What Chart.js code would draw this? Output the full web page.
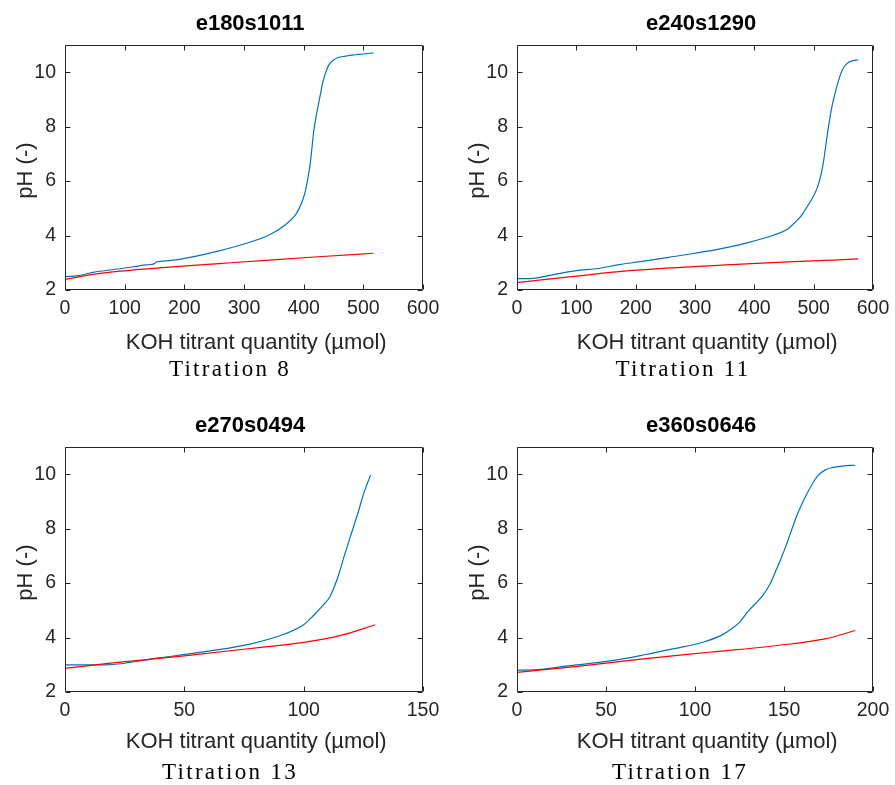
<!DOCTYPE html>
<html>
<head>
<meta charset="utf-8">
<script src="https://cdn.jsdelivr.net/npm/chart.js@4.4.1/dist/chart.umd.min.js"></script>
<style>
  html, body { margin: 0; padding: 0; background: #fff; }
  body { width: 895px; height: 785px; position: relative; overflow: hidden; }
  canvas { position: absolute; }
  .cap { position: absolute; width: 300px; text-align: center; font-family: "Liberation Serif", "DejaVu Serif", serif; font-size: 23px; line-height: 23px; letter-spacing: 2.3px; color: #000; white-space: nowrap; }
</style>
</head>
<body>
<canvas id="p8" width="447" height="360" style="left:0px;top:0px"></canvas>
<canvas id="p11" width="447" height="360" style="left:452px;top:0px"></canvas>
<canvas id="p13" width="447" height="360" style="left:0px;top:402px"></canvas>
<canvas id="p17" width="447" height="360" style="left:452px;top:402px"></canvas>
<div class="cap" style="left:80px;top:357px">Titration 8</div>
<div class="cap" style="left:533px;top:357px">Titration 11</div>
<div class="cap" style="left:80px;top:760px">Titration 13</div>
<div class="cap" style="left:530px;top:760px">Titration 17</div>
<script>
// ---------- Data ----------
// Titration 8 (e180s1011)
const t8MeasuredKOH = [0, 20, 47, 92, 136, 150, 153, 175, 214, 258, 303, 342, 369, 385, 392, 398, 403, 407, 411, 414, 417, 421, 425, 429, 433, 438, 442, 450, 458, 470, 481, 500, 517];
const t8MeasuredPH  = [2.49, 2.52, 2.65, 2.78, 2.92, 2.97, 3.03, 3.08, 3.22, 3.44, 3.71, 4.02, 4.39, 4.72, 4.98, 5.28, 5.65, 6.1, 6.65, 7.25, 7.85, 8.4, 8.85, 9.3, 9.71, 10.05, 10.26, 10.45, 10.54, 10.59, 10.63, 10.67, 10.71];
const t8ModelKOH = [0, 50, 92, 175, 258, 342, 431, 517];
const t8ModelPH  = [2.39, 2.58, 2.69, 2.84, 2.97, 3.10, 3.23, 3.35];

// Titration 11 (e240s1290)
const t11MeasuredKOH = [0, 22, 56, 100, 133, 172, 211, 256, 300, 344, 389, 433, 455, 467, 480, 489, 498, 506, 512, 517, 521, 525, 530, 536, 542, 547, 552, 558, 566, 575];
const t11MeasuredPH  = [2.42, 2.42, 2.54, 2.71, 2.78, 2.93, 3.05, 3.20, 3.35, 3.52, 3.74, 4.02, 4.22, 4.45, 4.75, 5.06, 5.38, 5.75, 6.2, 6.77, 7.4, 8.0, 8.65, 9.22, 9.7, 10.02, 10.22, 10.35, 10.42, 10.45];
const t11ModelKOH = [0, 100, 189, 378, 478, 575];
const t11ModelPH  = [2.27, 2.51, 2.71, 2.95, 3.05, 3.14];

// Titration 13 (e270s0494)
const t13MeasuredKOH = [0, 17, 40, 60, 78, 92, 100, 104, 108, 111, 113, 115, 117, 119, 121, 123, 125, 126.5, 128];
const t13MeasuredPH  = [3.0, 3.0, 3.26, 3.50, 3.77, 4.13, 4.47, 4.8, 5.17, 5.5, 5.9, 6.4, 7.0, 7.55, 8.1, 8.65, 9.25, 9.62, 9.96];
const t13ModelKOH = [0, 19, 50, 81, 100, 116, 130];
const t13ModelPH  = [2.87, 3.06, 3.33, 3.63, 3.82, 4.09, 4.47];

// Titration 17 (e360s0646)
const t17MeasuredKOH = [0, 11, 30, 52, 71, 89, 104, 115, 120, 125, 130, 134, 138, 142, 145, 148, 151, 154, 157, 160, 163, 166, 169, 173, 177, 183, 190];
const t17MeasuredPH  = [2.80, 2.82, 2.97, 3.14, 3.36, 3.60, 3.82, 4.09, 4.3, 4.56, 4.98, 5.25, 5.54, 5.95, 6.39, 6.85, 7.35, 7.9, 8.45, 8.9, 9.3, 9.65, 9.95, 10.15, 10.24, 10.3, 10.33];
const t17ModelKOH = [0, 34, 71, 108, 145, 173, 190];
const t17ModelPH  = [2.72, 2.94, 3.22, 3.46, 3.70, 3.95, 4.26];

// Axis settings / labels
const panelTitles = ['e180s1011', 'e240s1290', 'e270s0494', 'e360s0646'];
const xMaxes = [600, 600, 150, 200];
const xSteps = [100, 100, 50, 50];
const yMin = 2, yMax = 11, yStep = 2;
const xLabel = 'KOH titrant quantity (\u00b5mol)';
const yLabel = 'pH (-)';

// ---------- Rendering ----------
const AXC = '#262626';
const SANS = '"Liberation Sans", Arial, sans-serif';

const boxPlugin = {
  id: 'matlabBox',
  afterDatasetsDraw(chart) {
    const { ctx, chartArea: a, scales: { x, y } } = chart;
    ctx.save();
    ctx.strokeStyle = AXC;
    ctx.lineWidth = 1;
    const L = Math.round(a.left) + 0.5, R = Math.round(a.right) - 0.5;
    const T = Math.round(a.top) + 0.5, B = Math.round(a.bottom) - 0.5;
    ctx.beginPath();
    ctx.rect(L, T, R - L, B - T);
    const tl = 5;
    x.ticks.forEach(t => {
      const px = Math.round(x.getPixelForValue(t.value)) + 0.5;
      ctx.moveTo(px, B); ctx.lineTo(px, B - tl);
      ctx.moveTo(px, T); ctx.lineTo(px, T + tl);
    });
    y.ticks.forEach(t => {
      const py = Math.round(y.getPixelForValue(t.value)) + 0.5;
      ctx.moveTo(L, py); ctx.lineTo(L + tl, py);
      ctx.moveTo(R, py); ctx.lineTo(R - tl, py);
    });
    ctx.stroke();
    ctx.restore();
  }
};

function pts(xs, ys) { return xs.map((v, i) => ({ x: v, y: ys[i] })); }

function makeChart(id, idx, measX, measY, modX, modY, padRight, xTitlePadBottom) {
  new Chart(document.getElementById(id), {
    type: 'line',
    data: {
      datasets: [
        { label: 'model', data: pts(modX, modY), borderColor: '#ff0000', borderWidth: 1.2, pointRadius: 0, cubicInterpolationMode: 'monotone', fill: false },
        { label: 'measured', data: pts(measX, measY), borderColor: '#0072bd', borderWidth: 1.2, pointRadius: 0, cubicInterpolationMode: 'monotone', fill: false }
      ]
    },
    options: {
      responsive: false,
      animation: false,
      events: [],
      layout: { padding: { left: 0, right: padRight, top: 0, bottom: 0 } },
      plugins: {
        legend: { display: false },
        tooltip: { enabled: false },
        title: {
          display: true, text: '\u00a0\u00a0' + panelTitles[idx], fullSize: false, color: '#000',
          font: { family: SANS, size: 22, weight: 'bold' },
          padding: { top: 10.8, bottom: 7.8 }
        }
      },
      scales: {
        x: {
          type: 'linear', min: 0, max: xMaxes[idx],
          grid: { display: false, drawTicks: false }, border: { display: false },
          ticks: { stepSize: xSteps[idx], color: AXC, padding: 7.3, maxRotation: 0, includeBounds: false, font: { family: SANS, size: 19.5 } },
          title: { display: true, text: '\u00a0\u00a0\u00a0\u00a0' + xLabel, color: AXC, font: { family: SANS, size: 22 }, padding: { top: 0, bottom: xTitlePadBottom } },
          afterFit: s => { s.height = 70; }
        },
        y: {
          type: 'linear', min: yMin, max: yMax,
          grid: { display: false, drawTicks: false }, border: { display: false },
          ticks: { stepSize: yStep, color: AXC, padding: 9, includeBounds: false, font: { family: SANS, size: 19.5 } },
          title: { display: true, text: yLabel + '\u00a0', color: AXC, font: { family: SANS, size: 22 }, padding: { top: 12.8, bottom: 0 } },
          afterFit: s => { s.width = 65; }
        }
      }
    },
    plugins: [boxPlugin]
  });
}

makeChart('p8', 0, t8MeasuredKOH, t8MeasuredPH, t8ModelKOH, t8ModelPH, 24, 3.4);
makeChart('p11', 1, t11MeasuredKOH, t11MeasuredPH, t11ModelKOH, t11ModelPH, 26, 3.4);
makeChart('p13', 2, t13MeasuredKOH, t13MeasuredPH, t13ModelKOH, t13ModelPH, 24, 6.8);
makeChart('p17', 3, t17MeasuredKOH, t17MeasuredPH, t17ModelKOH, t17ModelPH, 26, 6.8);
</script>
</body>
</html>
